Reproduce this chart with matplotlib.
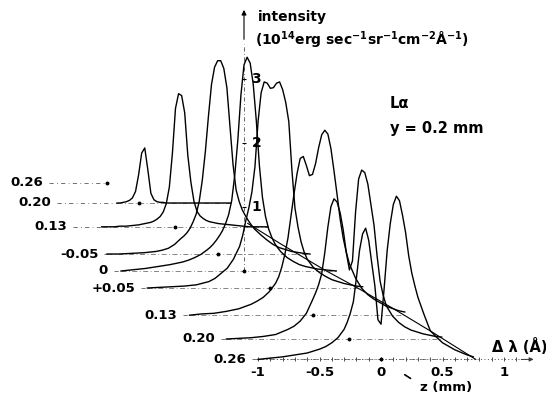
import numpy as np
import matplotlib.pyplot as plt
from matplotlib.transforms import Affine2D

plt.rcParams['font.family'] = ['DejaVu Sans']
plt.rcParams['mathtext.default'] = 'regular'

nan = np.nan

# z position of every profile (mm), back to front, and the label printed for it
z_pos = [-0.26, -0.20, -0.13, -0.05, 0.0, 0.05, 0.13, 0.20, 0.26]
z_text = ["0.26", "0.20", "0.13", "-0.05", "0", "+0.05", "0.13", "0.20", "0.26"]

# wavelength offset samples (Angstrom)
dlam = [-1.0, -0.9, -0.8, -0.7, -0.6, -0.5, -0.45, -0.4, -0.35, -0.3,
        -0.275, -0.25, -0.225, -0.2, -0.175, -0.15, -0.125, -0.1, -0.075, -0.05,
        -0.025, 0.0, 0.025, 0.05, 0.075, 0.1, 0.125, 0.15, 0.175, 0.2,
        0.225, 0.25, 0.275, 0.3, 0.35, 0.4, 0.45, 0.5, 0.6, 0.7, 0.75]

# intensity (10^14 erg s-1 sr-1 cm-2 A-1) for each z
int_m020 = [nan, nan, nan, nan, nan, nan, nan, nan, nan, nan,
            nan, nan, nan, nan, 0.0, 0.0, 0.01, 0.02, 0.04, 0.08,
            0.18, 0.44, 0.78, 0.86, 0.52, 0.15, 0.05, 0.02, 0.01, 0.01,
            0.0, 0.0, 0.0, 0.0, 0.0, 0.0, 0.0, 0.0, 0.0, 0.0, 0.0]
int_m013 = [nan, nan, nan, nan, 0.0, 0.0, 0.01, 0.01, 0.02, 0.03,
            0.04, 0.05, 0.06, 0.07, 0.09, 0.12, 0.16, 0.23, 0.36, 0.62,
            1.15, 1.85, 2.08, 2.05, 1.78, 1.12, 0.7, 0.4, 0.24, 0.17,
            0.13, 0.1, 0.08, 0.07, 0.05, 0.04, 0.03, 0.02, 0.0, 0.0, 0.0]
int_m005 = [nan, 0.0, 0.0, 0.01, 0.02, 0.04, 0.06, 0.09, 0.15, 0.24,
            0.28, 0.33, 0.4, 0.5, 0.62, 0.82, 1.15, 1.6, 2.15, 2.65,
            2.92, 3.02, 3.02, 2.9, 2.6, 2.0, 1.4, 1.0, 0.82, 0.69,
            0.6, 0.52, 0.45, 0.39, 0.3, 0.22, 0.15, 0.1, 0.04, 0.01, 0.0]
int_0 = [0.0, 0.02, 0.04, 0.07, 0.1, 0.14, 0.17, 0.21, 0.26, 0.33,
         0.37, 0.42, 0.48, 0.55, 0.63, 0.74, 0.88, 1.1, 1.5, 2.05,
         2.75, 3.22, 3.34, 3.25, 2.92, 2.35, 1.65, 1.15, 0.85, 0.66,
         0.53, 0.43, 0.36, 0.3, 0.21, 0.15, 0.1, 0.07, 0.03, 0.01, 0.0]
int_p005 = [0.0, 0.01, 0.02, 0.03, 0.05, 0.1, 0.15, 0.23, 0.31, 0.45,
            0.55, 0.65, 0.82, 1.05, 1.25, 1.5, 1.9, 2.6, 3.05, 3.22,
            3.2, 3.12, 3.13, 3.2, 3.22, 3.1, 2.9, 2.6, 1.85, 1.25,
            0.95, 0.72, 0.56, 0.45, 0.32, 0.24, 0.18, 0.13, 0.07, 0.03, 0.02]
int_p013 = [0.0, 0.02, 0.03, 0.06, 0.1, 0.17, 0.22, 0.28, 0.37, 0.5,
            0.6, 0.75, 0.95, 1.2, 1.55, 1.9, 2.22, 2.45, 2.48, 2.34,
            2.18, 2.2, 2.37, 2.62, 2.82, 2.89, 2.83, 2.6, 2.25, 1.88,
            1.5, 1.2, 0.98, 0.8, 0.58, 0.42, 0.32, 0.25, 0.14, 0.07, 0.05]
int_p020 = [0.0, 0.01, 0.02, 0.04, 0.07, 0.15, 0.2, 0.28, 0.4, 0.61,
            0.72, 0.85, 1.02, 1.35, 1.75, 2.07, 2.19, 2.14, 1.97, 1.7,
            1.35, 1.08, 1.22, 1.98, 2.5, 2.64, 2.6, 2.42, 2.1, 1.78,
            1.3, 0.9, 0.68, 0.52, 0.36, 0.26, 0.19, 0.14, 0.08, 0.04, 0.03]
int_p026 = [0.0, 0.02, 0.04, 0.07, 0.1, 0.16, 0.2, 0.26, 0.34, 0.47,
            0.58, 0.72, 0.9, 1.27, 1.7, 1.96, 2.05, 1.86, 1.5, 1.15,
            0.62, 0.55, 1.1, 1.7, 2.12, 2.42, 2.55, 2.48, 2.25, 1.98,
            1.62, 1.35, 1.15, 0.97, 0.7, 0.45, 0.35, 0.26, 0.15, 0.07, 0.04]

# the -0.26 mm profile has no curve drawn
profiles = [None, int_m020, int_m013, int_m005, int_0,
            int_p005, int_p013, int_p020, int_p026]

# line joining the red ends of the profiles on the floor (z, dlam)
floor_z = [-0.14, -0.08, 0.0, 0.05, 0.11, 0.18, 0.26]
floor_dl = [0.63, 0.64, 0.67, 0.71, 0.74, 0.76, 0.77]

int_ticks = [1, 2, 3]
dl_ticks = [-1, -0.5, 0, 0.5, 1]
dl_ticklabels = ["-1", "-0.5", "0", "0.5", "1"]

# oblique projection: z shifts a profile right and down
kx = 527 / 123
ky = -340 / 64

fig = plt.figure(figsize=(5.46, 3.95), dpi=100)
ax = fig.add_axes([0, 0, 1, 1])
ax.set_xlim(-244 / 123, 302 / 123)
ax.set_ylim(-124 / 64, 271 / 64)
ax.axis('off')


def frame(z):
    return Affine2D().translate(kx * z, ky * z) + ax.transData


# (dlam, z) on the floor plane -> screen
floor = Affine2D(np.array([[1, kx, 0], [0, ky, 0], [0, 0, 1]])) + ax.transData

bold = dict(fontweight='bold', color='k')
lab_right = [-0.52, -0.71, -0.88, -0.97, -1.11, -1.1, -1.1, -1.09, -1.1]
dl = np.array(dlam)

for z, txt, prof, xr in zip(z_pos, z_text, profiles, lab_right):
    tr = frame(z)
    ax.text(xr, 0, txt, transform=tr, ha='right', va='center', fontsize=9.5, **bold)
    if prof is None:
        start = 0.0
    else:
        y = np.array(prof)
        start = dl[~np.isnan(y)][0]
        ax.plot(dl, y, color='k', lw=1.0, transform=tr, zorder=3,
                solid_joinstyle='round')
        ax.plot([start, 0.75], [0, 0], color='0.45', lw=0.6,
                ls=(0, (6, 3, 1, 3)), transform=tr, zorder=2)
    ax.plot([xr + 0.05, start], [0, 0], color='0.35', lw=0.6,
            ls=(0, (5, 4, 1, 4)), transform=tr, zorder=2)

# marks at dlam = 0 on every profile
ax.plot(np.zeros(len(z_pos)), z_pos, ls='none', marker='o', ms=1.8,
        color='k', transform=floor, zorder=4)

# floor line through the profile ends
ax.plot(floor_dl, floor_z, color='k', lw=0.8, transform=floor, zorder=3)

# z direction mark beyond the front profile
ax.annotate('', xy=(0, 0.316), xytext=(0, 0.305), xycoords=floor,
            arrowprops=dict(arrowstyle='-', lw=1.2, color='k',
                            shrinkA=0, shrinkB=0))

# intensity axis
t0 = frame(0)
ax.plot([0, 0], [0, 3.55], color='0.3', lw=0.6, ls=(0, (5, 3, 1, 3)),
        transform=t0, zorder=2)
ax.annotate('', xy=(0, 4.08), xytext=(0, 3.62), xycoords=t0,
            arrowprops=dict(arrowstyle='-|>', lw=0.8, color='k',
                            mutation_scale=7, shrinkA=0, shrinkB=0))
ax.plot(np.zeros(len(int_ticks)), int_ticks, ls='none', marker='_', ms=3,
        mew=0.8, color='k', transform=t0)
for v in int_ticks:
    ax.text(0.06, v, str(v), transform=t0, ha='left', va='center',
            fontsize=10, **bold)

# wavelength axis on the front profile
tf = frame(0.26)
ax.plot([-1.02, 1.18], [0, 0], color='0.3', lw=0.7, ls=(0, (1, 2.5)), transform=tf)
ax.plot(np.arange(-1.0, 1.15, 0.1), np.zeros(22), ls='none', marker='|',
        ms=2.5, mew=0.7, color='0.3', transform=tf)
ax.annotate('', xy=(1.24, 0), xytext=(1.14, 0), xycoords=tf,
            arrowprops=dict(arrowstyle='-|>', lw=0.7, color='0.2',
                            mutation_scale=6, shrinkA=0, shrinkB=0))
for v, s in zip(dl_ticks, dl_ticklabels):
    ax.text(v, -0.2, s, transform=tf, ha='center', va='center', fontsize=9.5, **bold)

W, H = 546, 395
fig.text(258 / W, 1 - 17 / H, "intensity", ha='left', va='center', fontsize=10, **bold)
fig.text(255 / W, 1 - 40 / H,
         r"(10$^{14}$erg sec$^{-1}$sr$^{-1}$cm$^{-2}$Å$^{-1}$)",
         ha='left', va='center', fontsize=10, **bold)
fig.text(390 / W, 1 - 103 / H, "Lα", ha='left', va='center', fontsize=10.5, **bold)
fig.text(390 / W, 1 - 129 / H, "y = 0.2 mm", ha='left', va='center', fontsize=10.5, **bold)
fig.text(492 / W, 1 - 346 / H, "Δ λ (Å)", ha='left', va='center', fontsize=10.5, **bold)
fig.text(420 / W, 1 - 387 / H, "z (mm)", ha='left', va='center', fontsize=9.5, **bold)

fig.savefig("out.png", dpi=100)
